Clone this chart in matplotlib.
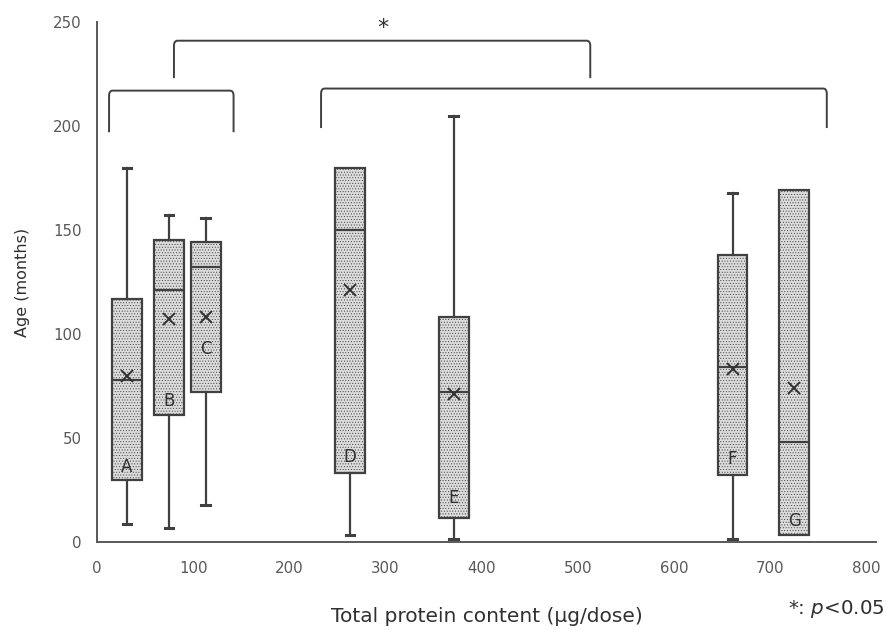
import matplotlib.pyplot as plt
from matplotlib.path import Path
from matplotlib.patches import PathPatch

# values (months)
groups = ["A", "B", "C", "D", "E", "F", "G"]
protein = [31, 75, 113, 263, 371, 661, 725]
whisk_lo = [8.5, 6.5, 18, 3.5, 1.5, 1.5, 3.5]
q1 = [30, 61, 72, 33, 11.5, 32, 3.5]
median = [78, 121, 132, 150, 72, 84, 48]
q3 = [117, 145, 144, 180, 108, 138, 169]
whisk_hi = [180, 157, 156, 180, 205, 168, 169]
mean = [80, 107, 108, 121, 71, 83, 74]
label_y = [36, 68, 93, 41, 21, 40, 10]

dark = "#404040"
grey = "#595959"
plt.rcParams["hatch.color"] = "#c4c4c4"
plt.rcParams["hatch.linewidth"] = 0.4

fig = plt.figure(figsize=(8.87, 6.30), dpi=100)
ax = fig.add_axes([0.1094, 0.1397, 0.878, 0.8254])

stats = []
for i in range(len(groups)):
    stats.append(dict(label=groups[i], whislo=whisk_lo[i], q1=q1[i], med=median[i],
                      q3=q3[i], whishi=whisk_hi[i], mean=mean[i], fliers=[]))

parts = ax.bxp(stats, positions=protein, widths=31, capwidths=9, patch_artist=True,
               showmeans=True, manage_ticks=False,
               boxprops=dict(facecolor="#dcdcdc", edgecolor=dark, linewidth=1.6, hatch="......"),
               medianprops=dict(color=dark, linewidth=1.6),
               whiskerprops=dict(color=dark, linewidth=1.6),
               capprops=dict(color=dark, linewidth=2.2),
               meanprops=dict(marker="x", markersize=9, markeredgecolor="#303030",
                              markeredgewidth=1.4))

# no cap where the whisker has zero length
for i in range(len(groups)):
    if whisk_lo[i] == q1[i]:
        parts["caps"][2 * i].set_visible(False)
    if whisk_hi[i] == q3[i]:
        parts["caps"][2 * i + 1].set_visible(False)

for x, y, g in zip(protein, label_y, groups):
    ax.text(x, y, g, ha="center", va="center", fontsize=12, color="#303030")


def bracket(x0, x1, ytop, ybot, r=2.5):
    verts = [(x0, ybot), (x0, ytop - r), (x0, ytop), (x0 + r * 1.5, ytop),
             (x1 - r * 1.5, ytop), (x1, ytop), (x1, ytop - r), (x1, ybot)]
    codes = [Path.MOVETO, Path.LINETO, Path.CURVE3, Path.CURVE3,
             Path.LINETO, Path.CURVE3, Path.CURVE3, Path.LINETO]
    ax.add_patch(PathPatch(Path(verts, codes), fill=False, edgecolor=dark,
                           linewidth=1.4, clip_on=False))


bracket(12.5, 142, 217, 197)
bracket(233, 759, 218, 199)
bracket(80, 513, 241, 223)
ax.text(297, 247, "*", ha="center", va="center", fontsize=16, color="#303030", clip_on=False)

ax.set_xlim(0, 810)
ax.set_ylim(0, 250)
ax.set_xticks(range(0, 801, 100))
ax.set_yticks(range(0, 251, 50))
ax.tick_params(length=0, labelsize=10.8, labelcolor=grey, pad=14)
ax.tick_params(axis="y", pad=11)
for s in ["top", "right"]:
    ax.spines[s].set_visible(False)
for s in ["left", "bottom"]:
    ax.spines[s].set_color(grey)
    ax.spines[s].set_linewidth(1.4)

ax.set_xlabel("Total protein content (μg/dose)", fontsize=14.5, color="#303030", labelpad=22)
ax.set_ylabel("Age (months)", fontsize=11.5, color="#303030", labelpad=17)
fig.text(0.997, 0.033, "*: $\\it{p}$<0.05", ha="right", va="center", fontsize=14.3, color="#303030")

fig.savefig("out.png", dpi=100)
